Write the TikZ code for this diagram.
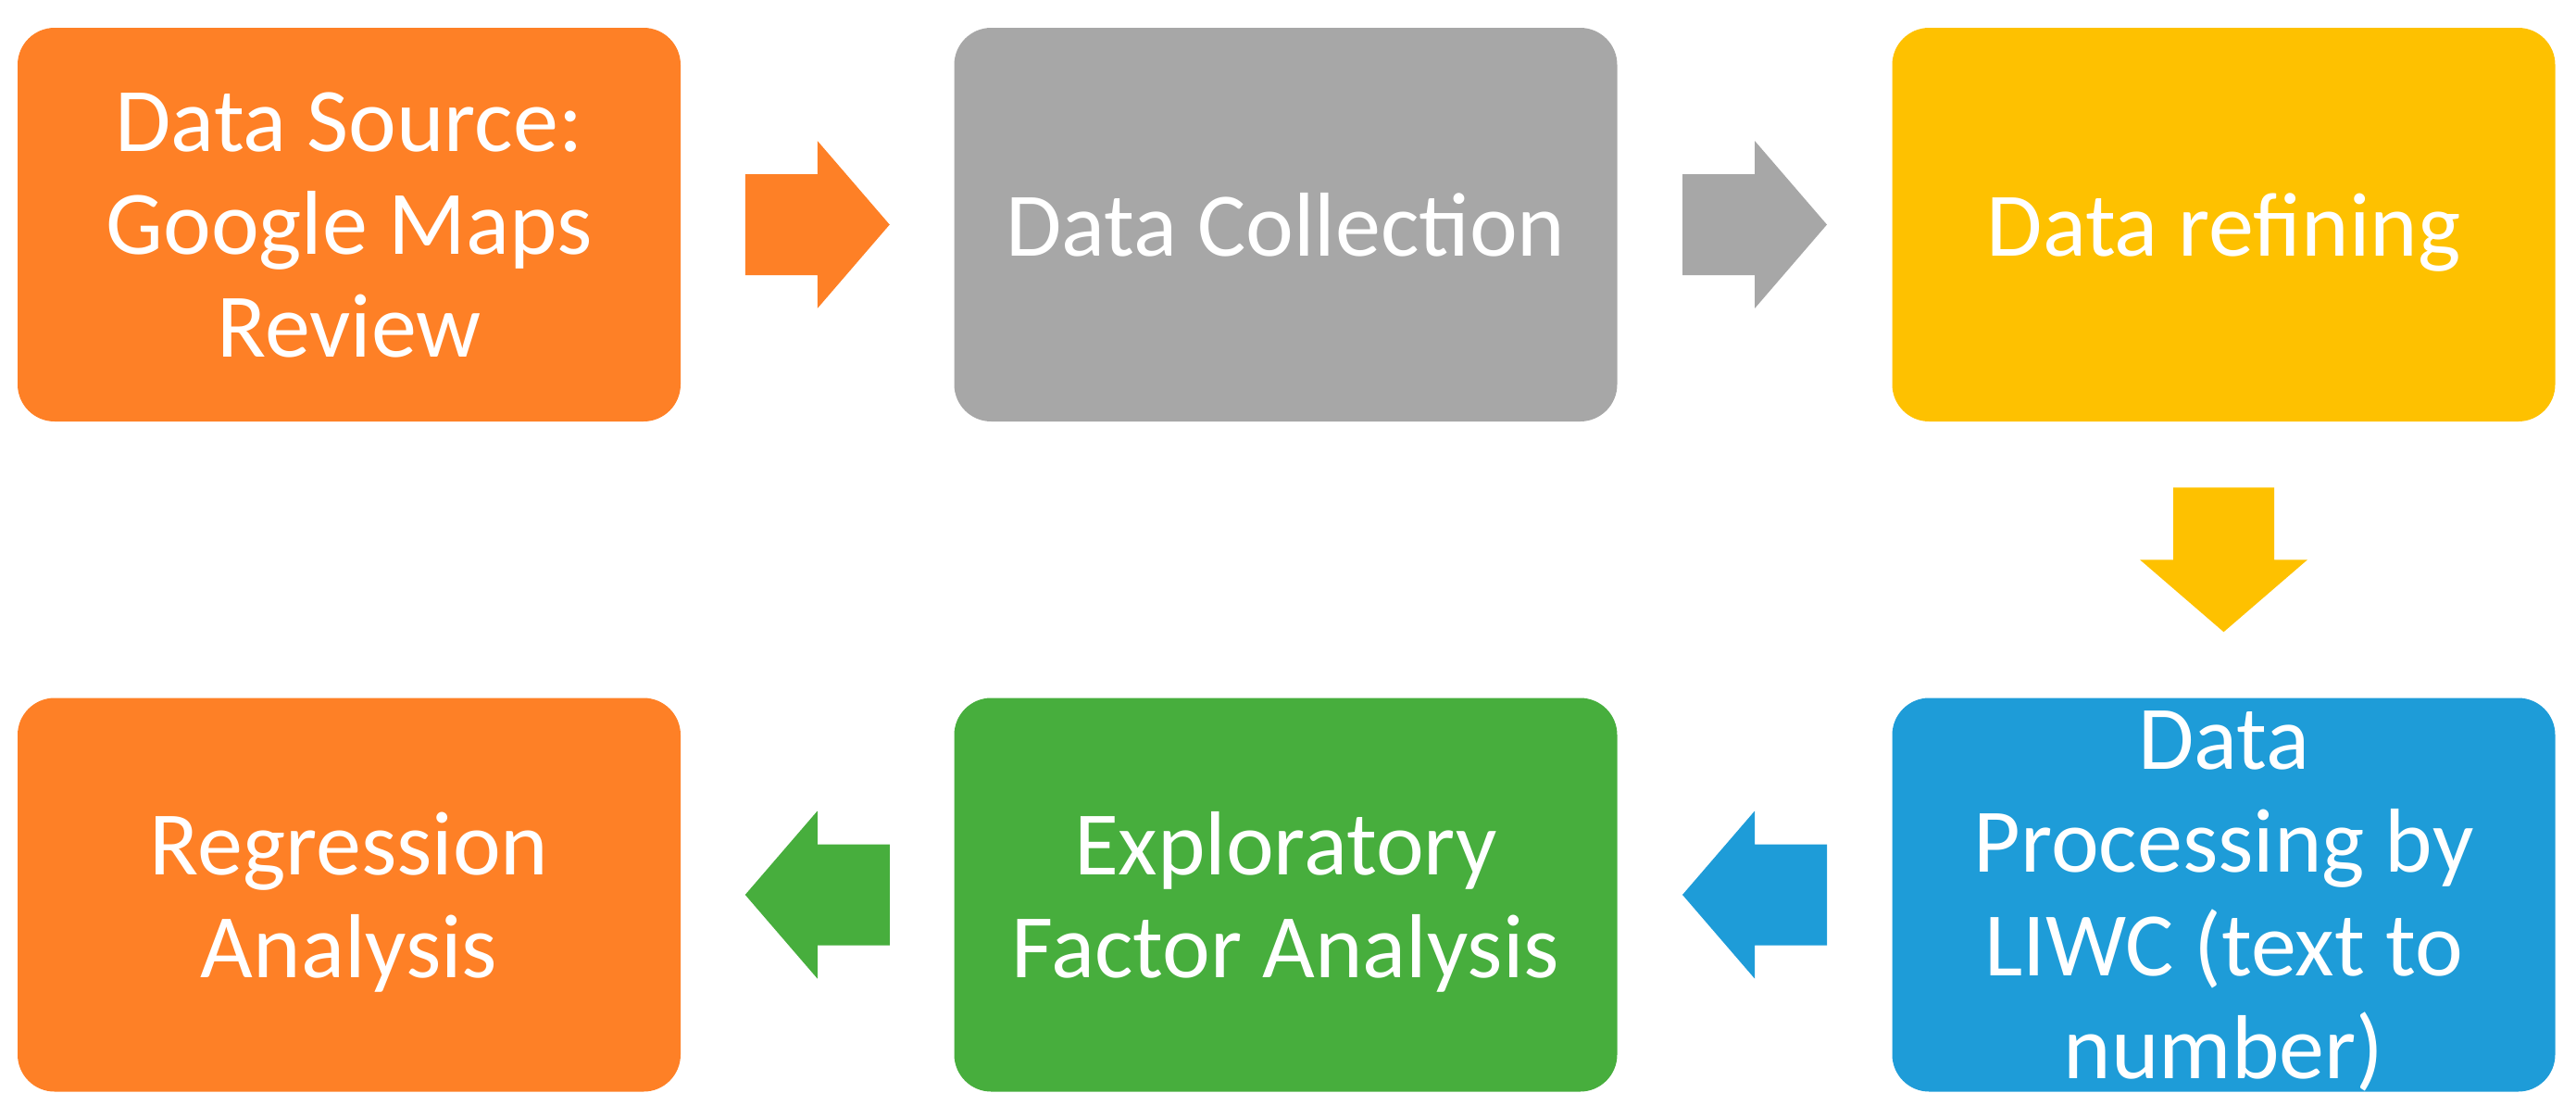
\documentclass[tikz,border=0pt]{standalone}
\usepackage{fontspec}
\setmainfont{Carlito}
\usetikzlibrary{calc}
\definecolor{cOrange}{RGB}{254,128,38}
\definecolor{cGray}{RGB}{167,167,167}
\definecolor{cYellow}{RGB}{254,193,0}
\definecolor{cBlue}{RGB}{30,156,216}
\definecolor{cGreen}{RGB}{71,174,61}
\begin{document}
\begin{tikzpicture}[x=1cm,y=1cm,
  box/.style={rounded corners=0.4cm, minimum width=7.16cm, minimum height=4.25cm,
    inner sep=0pt, align=center, text=white, text depth=0pt,
    font=\fontsize{27.9}{31.6}\selectfont},
  blockarrow/.pic={\fill[#1] (-0.78,-0.545) -- (0,-0.545) -- (0,-0.905) -- (0.78,0)
    -- (0,0.905) -- (0,0.545) -- (-0.78,0.545) -- cycle;}]
\useasboundingbox (0,0) rectangle (27.82,-12.06);
% top row
\node[box, fill=cOrange] (b1) at (3.77,-2.425) {Data Source:\\Google Maps\\Review};
\node[box, fill=cGray]   (b2) at (13.885,-2.425) {Data Collection};
\node[box, fill=cYellow] (b3) at (24.015,-2.425) {Data refining};
% bottom row
\node[box, fill=cOrange] (b4) at (3.77,-9.66) {Regression\\Analysis};
\node[box, fill=cGreen]  (b5) at (13.885,-9.66) {Exploratory\\Factor Analysis};
\node[box, fill=cBlue]   (b6) at (24.015,-9.66) {Data\\Processing by\\LIWC (text to\\number)};
% arrows
\path ($(b1.east)!0.5!(b2.west)$) pic {blockarrow=cOrange};
\path ($(b2.east)!0.5!(b3.west)$) pic {blockarrow=cGray};
\path ($(b3.south)!0.5!(b6.north)$) pic[rotate=-90] {blockarrow=cYellow};
\path ($(b6.west)!0.5!(b5.east)$) pic[rotate=180] {blockarrow=cBlue};
\path ($(b5.west)!0.5!(b4.east)$) pic[rotate=180] {blockarrow=cGreen};
\end{tikzpicture}
\end{document}
